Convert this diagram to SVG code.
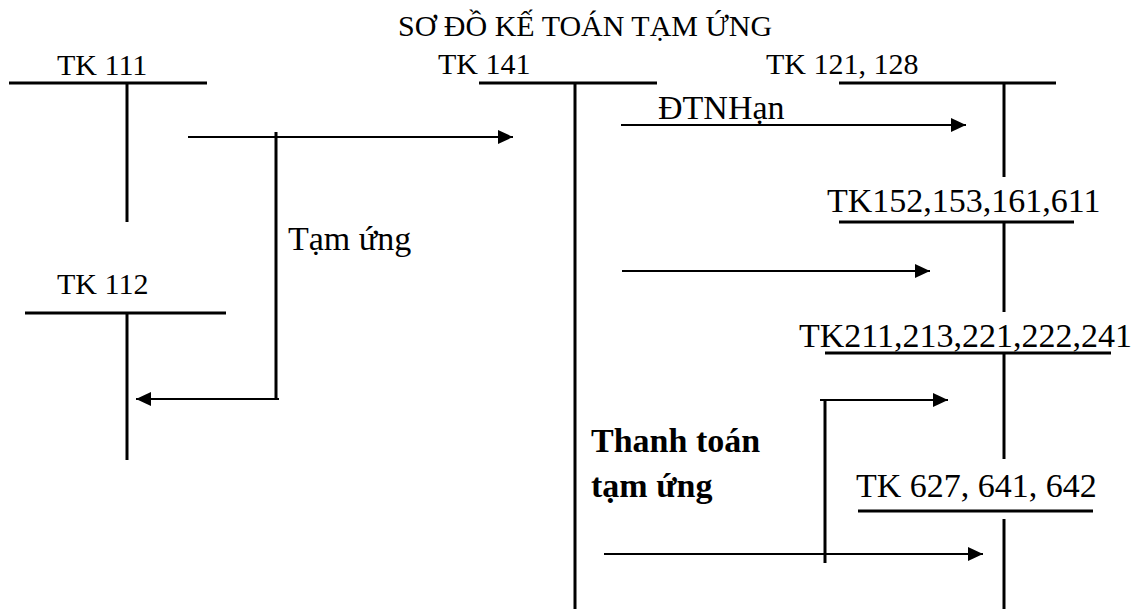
<svg xmlns="http://www.w3.org/2000/svg" width="1145" height="609" viewBox="0 0 1145 609">
<style>
text{font-family:"Liberation Serif","Times New Roman",serif;fill:#000}
.t30{font-size:30px}
.t34{font-size:34px}
.b{font-weight:bold;font-size:34px}
.acc{stroke:#000;stroke-width:3;fill:none}
.con{stroke:#000;stroke-width:2;fill:none}
.conv{stroke:#000;stroke-width:3;fill:none}
</style>
<defs>
<marker id="ah" markerUnits="userSpaceOnUse" markerWidth="16" markerHeight="14" refX="15" refY="7" orient="auto">
<path d="M0,0 L15,7 L0,14 Z" fill="#000"/>
</marker>
</defs>
<rect width="1145" height="609" fill="#fff"/>
<text class="t30" x="398" y="36">SƠ ĐỒ KẾ TOÁN TẠM ỨNG</text>
<g id="tk111">
<text class="t30" x="57" y="75">TK 111</text>
<line class="acc" x1="9" y1="83" x2="207" y2="83"/>
<line class="acc" x1="127" y1="83" x2="127" y2="222"/>
</g>
<g id="tk141">
<text class="t30" x="438" y="74">TK 141</text>
<line class="acc" x1="479" y1="83" x2="657" y2="83"/>
<line class="acc" x1="575" y1="83" x2="575" y2="609"/>
</g>
<g id="tk121">
<text class="t30" x="766" y="74">TK 121, 128</text>
<line class="acc" x1="839" y1="83" x2="1056" y2="83"/>
<line class="acc" x1="1004" y1="83" x2="1004" y2="177"/>
</g>
<g id="tk152">
<text class="t34" x="827" y="212">TK152,153,161,611</text>
<line class="acc" x1="839" y1="222" x2="1074" y2="222"/>
<line class="acc" x1="1004" y1="222" x2="1004" y2="312"/>
</g>
<g id="tk211">
<text class="t34" x="799" y="347">TK211,213,221,222,241</text>
<line class="acc" x1="825" y1="353" x2="1111" y2="353"/>
<line class="acc" x1="1004" y1="353" x2="1004" y2="459"/>
</g>
<g id="tk627">
<text class="t34" x="856" y="497">TK 627, 641, 642</text>
<line class="acc" x1="858" y1="511" x2="1093" y2="511"/>
<line class="acc" x1="1004" y1="519" x2="1004" y2="609"/>
</g>
<g id="tk112">
<text class="t30" x="57" y="294">TK 112</text>
<line class="acc" x1="25" y1="313" x2="226" y2="313"/>
<line class="acc" x1="127" y1="313" x2="127" y2="460"/>
</g>
<g id="connectors">
<line class="con" x1="188" y1="137" x2="513" y2="137" marker-end="url(#ah)"/>
<line class="conv" x1="276" y1="132" x2="276" y2="400"/>
<line class="con" x1="279" y1="399" x2="136" y2="399" marker-end="url(#ah)"/>
<text class="t34" x="288" y="250">Tạm ứng</text>
<line class="con" x1="621" y1="125" x2="966" y2="125" marker-end="url(#ah)"/>
<text class="t34" x="658" y="119">ĐTNHạn</text>
<line class="con" x1="622" y1="271" x2="930" y2="271" marker-end="url(#ah)"/>
<line class="conv" x1="825" y1="399" x2="825" y2="563"/>
<line class="con" x1="820" y1="400" x2="948" y2="400" marker-end="url(#ah)"/>
<line class="con" x1="604" y1="554" x2="983" y2="554" marker-end="url(#ah)"/>
<text class="b" x="591" y="452">Thanh toán</text>
<text class="b" x="591" y="497">tạm ứng</text>
</g>
</svg>
